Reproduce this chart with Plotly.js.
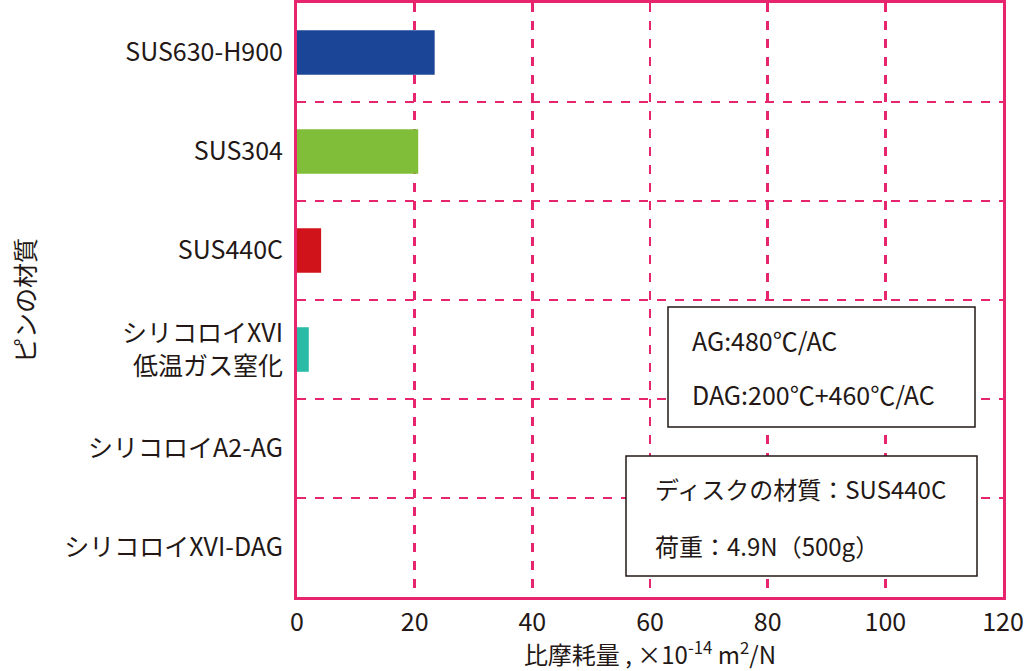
<!DOCTYPE html>
<html>
<head>
<meta charset="utf-8">
<script src="https://cdn.plot.ly/plotly-3.0.1.min.js"></script>
<style>
  html, body { margin: 0; padding: 0; background: #fff; }
  #chart { width: 1024px; height: 671px; }
</style>
</head>
<body>
<div id="chart"></div>
<script>
// ---- data ----
const categories = [
  "SUS630-H900",
  "SUS304",
  "SUS440C",
  "シリコロイXVI<br>低温ガス窒化",
  "シリコロイA2-AG",
  "シリコロイXVI-DAG"
];
const wearRates = [23.4, 20.6, 4.1, 2.0, 0, 0];
const barColors = ["#1B4596", "#80BE3A", "#D0121B", "#2ABBA7", "#999999", "#999999"];
const xTickValues = [0, 20, 40, 60, 80, 100, 120];
const xAxisTitle = "比摩耗量 , ×10<sup>-14</sup> m<sup>2</sup>/N";
const yAxisTitle = "ピンの材質";
const noteTreatment = ["AG:480℃/AC", "DAG:200℃+460℃/AC"];
const noteCondition = ["ディスクの材質：SUS440C", "荷重：4.9N（500g）"];

// ---- style ----
const pink = "#E6256E";
const ink = "#231815";
const fontFam = "'Noto Sans CJK JP', 'Noto Sans', sans-serif";

const trace = {
  type: "bar",
  orientation: "h",
  y: categories,
  x: wearRates,
  width: 0.45,
  marker: { color: barColors, line: { width: 0 } },
  hoverinfo: "x+y"
};

// plot area in pixels: x 297..1003, y 3..597
const L = 297, R = 1003, T = 3, B = 597;
const px = v => (v - L) / (R - L);
const py = v => (B - v) / (B - T);

const layout = {
  width: 1024,
  height: 671,
  margin: { l: L, r: 1024 - R, t: T, b: 671 - B, pad: 0 },
  paper_bgcolor: "#ffffff",
  plot_bgcolor: "#ffffff",
  showlegend: false,
  font: { family: fontFam, color: ink, size: 24 },
  xaxis: {
    range: [0, 120],
    tickvals: xTickValues,
    ticks: "",
    ticklabelstandoff: 1,
    ticklabeloverflow: "allow",
    tickfont: { size: 25, family: fontFam, color: ink },
    showgrid: true,
    gridcolor: pink,
    gridwidth: 2.5,
    griddash: "dash",
    zeroline: false,
    showline: true,
    linecolor: pink,
    linewidth: 3,
    mirror: true,
    title: { text: xAxisTitle, font: { size: 24, family: fontFam, color: ink }, standoff: 0 },
    automargin: false,
    fixedrange: true
  },
  yaxis: {
    type: "category",
    categoryorder: "array",
    categoryarray: categories,
    autorange: "reversed",
    tickson: "boundaries",
    ticks: "",
    ticklabelstandoff: 6,
    tickfont: { size: 25, family: fontFam, color: ink },
    showgrid: true,
    gridcolor: pink,
    gridwidth: 2.5,
    griddash: "dash",
    zeroline: false,
    showline: true,
    linecolor: pink,
    linewidth: 3,
    mirror: true,
    automargin: false,
    fixedrange: true
  },
  shapes: [
    { type: "rect", xref: "paper", yref: "paper", layer: "above",
      x0: px(668), x1: px(975), y0: py(427), y1: py(307),
      line: { color: ink, width: 1.5 }, fillcolor: "#ffffff" },
    { type: "rect", xref: "paper", yref: "paper", layer: "above",
      x0: px(626), x1: px(977), y0: py(576), y1: py(456),
      line: { color: ink, width: 1.5 }, fillcolor: "#ffffff" }
  ],
  annotations: [
    { xref: "paper", yref: "paper", x: px(24), y: py(301), text: yAxisTitle, textangle: -90,
      showarrow: false, xanchor: "center", yanchor: "middle",
      font: { size: 25, family: fontFam, color: ink } },
    { xref: "paper", yref: "paper", x: px(690), y: py(340), text: noteTreatment[0],
      showarrow: false, xanchor: "left", yanchor: "middle",
      font: { size: 25, family: fontFam, color: ink } },
    { xref: "paper", yref: "paper", x: px(690), y: py(394), text: noteTreatment[1],
      showarrow: false, xanchor: "left", yanchor: "middle",
      font: { size: 25, family: fontFam, color: ink } },
    { xref: "paper", yref: "paper", x: px(653), y: py(489), text: noteCondition[0],
      showarrow: false, xanchor: "left", yanchor: "middle",
      font: { size: 24, family: fontFam, color: ink } },
    { xref: "paper", yref: "paper", x: px(653), y: py(545), text: noteCondition[1],
      showarrow: false, xanchor: "left", yanchor: "middle",
      font: { size: 24, family: fontFam, color: ink } }
  ]
};

Plotly.newPlot("chart", [trace], layout, { staticPlot: true, displayModeBar: false });
</script>
</body>
</html>
